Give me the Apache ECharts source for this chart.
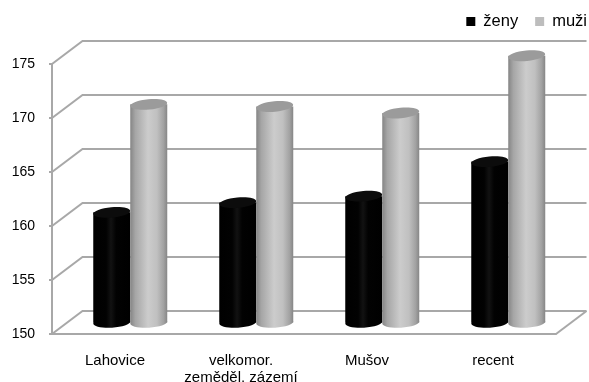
<!DOCTYPE html>
<html>
<head>
<meta charset="utf-8">
<style>html,body{margin:0;padding:0;background:#fff}#chart{width:589px;height:382px}</style>
<script src="https://cdn.jsdelivr.net/npm/echarts@6/dist/echarts.min.js"></script>
</head>
<body>
<div id="chart"></div>
<script>
// Mean stature by group, shown as pseudo-3D cylinders on a tilted floor
const categories = ['Lahovice', 'velkomor.\nzeměděl. zázemí', 'Mušov', 'recent'];
const zeny = [160.2, 161.1, 161.7, 164.9];
const muzi = [170.2, 170.0, 169.4, 174.7];
const yTicks = [150, 155, 160, 165, 170, 175];

const DEPTH_X = 30.5, DEPTH_Y = 23, RADIUS = 18.5, RY = 5.2;
const WALL = '#a8a8a8';
const FONT = '"Liberation Sans", Arial, sans-serif';

function hGrad(stops) {
  return { type: 'linear', x: 0, y: 0, x2: 1, y2: 0,
    colorStops: stops.map(s => ({ offset: s[0], color: s[1] })) };
}
const greyBody = hGrad([[0, '#858585'], [0.14, '#a6a6a6'], [0.48, '#cccccc'], [0.72, '#c0c0c0'], [0.9, '#a2a2a2'], [1, '#868686']]);
const blackBody = hGrad([[0, '#000'], [0.35, '#020202'], [0.48, '#121212'], [0.62, '#020202'], [1, '#000']]);

// Back-wall gridlines, receding from the front value axis
function renderWall(params, api) {
  const v = api.value(1);
  const p = api.coord([0, v]);
  const sys = params.coordSys;
  const style = { stroke: WALL, lineWidth: 2, fill: null };
  const children = [{
    type: 'polyline',
    shape: { points: [[sys.x, p[1]], [sys.x + DEPTH_X, p[1] - DEPTH_Y], [sys.x + sys.width + DEPTH_X, p[1] - DEPTH_Y]] },
    style
  }];
  if (v === yTicks[0]) {
    children.push({
      type: 'line',
      shape: { x1: sys.x + sys.width, y1: p[1], x2: sys.x + sys.width + DEPTH_X, y2: p[1] - DEPTH_Y },
      style
    });
  }
  return { type: 'group', children };
}

// One cylinder; the side tells whether it sits left or right of the category centre
function cylinder(side, body, topColor) {
  return function (params, api) {
    const top = api.coord([api.value(0), api.value(1)]);
    const base = api.coord([api.value(0), yTicks[0]]);
    const cx = top[0] + DEPTH_X / 2 + side * RADIUS;
    const yTop = top[1] - DEPTH_Y / 2;
    const yBase = base[1] - DEPTH_Y / 2;
    return {
      type: 'group',
      children: [
        { type: 'ellipse', shape: { cx, cy: yBase, rx: RADIUS, ry: RY }, rotation: 0.05,
          originX: cx, originY: yBase, style: { fill: body } },
        { type: 'rect', shape: { x: cx - RADIUS, y: yTop, width: RADIUS * 2, height: yBase - yTop },
          style: { fill: body } },
        { type: 'ellipse', shape: { cx, cy: yTop, rx: RADIUS, ry: RY }, rotation: 0.09,
          originX: cx, originY: yTop, style: { fill: topColor } }
      ]
    };
  };
}

const chart = echarts.init(document.getElementById('chart'), null, { renderer: 'canvas' });
chart.setOption({
  animation: false,
  backgroundColor: '#fff',
  textStyle: { fontFamily: FONT },
  grid: { left: 52, right: 33, top: 64, bottom: 48, outerBoundsMode: 'none' },
  legend: {
    data: ['ženy', 'muži'],
    top: 13,
    right: 2,
    padding: 0,
    icon: 'rect',
    itemWidth: 9,
    itemHeight: 9,
    itemGap: 17,
    textStyle: { fontFamily: FONT, fontSize: 16.5, color: '#000', padding: [0, 0, 0, 3] }
  },
  xAxis: {
    type: 'category',
    data: categories,
    axisLine: { lineStyle: { color: WALL, width: 2 } },
    axisTick: { length: 4, lineStyle: { color: WALL, width: 1 } },
    axisLabel: { color: '#000', fontSize: 15, fontFamily: FONT, margin: 18, lineHeight: 17, interval: 0 }
  },
  yAxis: {
    type: 'value',
    min: 150,
    max: 175,
    interval: 5,
    axisLine: { show: true, lineStyle: { color: WALL, width: 2 } },
    axisTick: { show: true, length: 3, lineStyle: { color: WALL, width: 2 } },
    axisLabel: { color: '#000', fontSize: 14, fontFamily: FONT, margin: 17, padding: [3, 0, 0, 0] },
    splitLine: { show: false }
  },
  series: [
    { type: 'custom', name: 'wall', renderItem: renderWall, z: 1, silent: true,
      data: yTicks.map(v => [0, v]) },
    { type: 'custom', name: 'ženy', renderItem: cylinder(-1, blackBody, '#0c0c0c'), z: 2,
      itemStyle: { color: '#000' }, data: zeny.map((v, i) => [i, v]) },
    { type: 'custom', name: 'muži', renderItem: cylinder(1, greyBody, '#9b9b9b'), z: 3,
      itemStyle: { color: '#bdbdbd' }, data: muzi.map((v, i) => [i, v]) }
  ]
});
</script>
</body>
</html>
